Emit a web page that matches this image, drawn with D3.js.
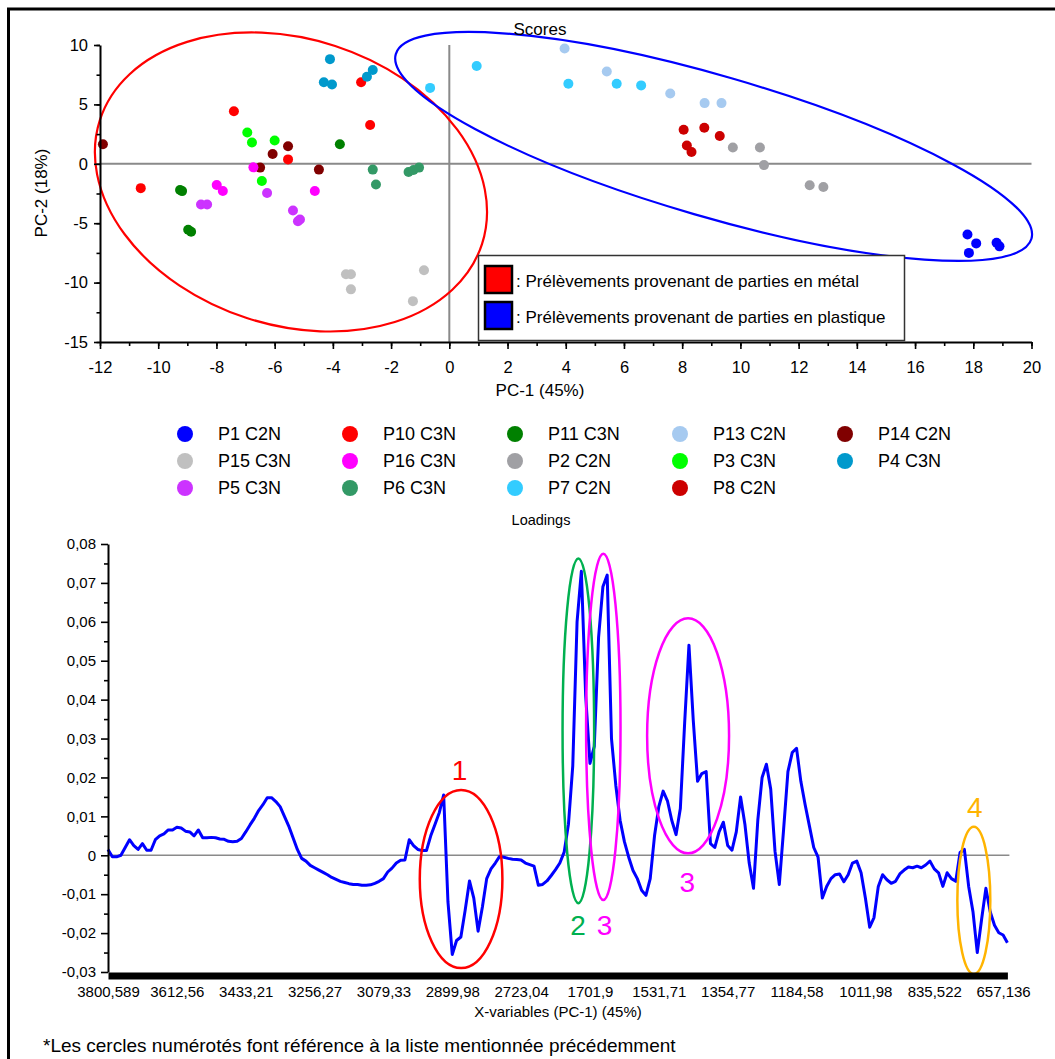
<!DOCTYPE html>
<html><head><meta charset="utf-8">
<script src="https://cdn.jsdelivr.net/npm/d3@7"></script>
<style>
body{margin:0;background:#fff}
svg{display:block}
text{font-family:"Liberation Sans",Arial,Helvetica,sans-serif}
</style>
</head><body>
<svg id="chart" width="1055" height="1059"></svg>
<script>
// ---------------- DATA ----------------
// Scores (PC-1, PC-2) per sample series
const seriesNames = ["P1 C2N","P10 C3N","P11 C3N","P13 C2N","P14 C2N",
                     "P15 C3N","P16 C3N","P2 C2N","P3 C3N","P4 C3N",
                     "P5 C3N","P6 C3N","P7 C2N","P8 C2N"];
const seriesColors = ["#0000FF","#FF0000","#008000","#A6CAF0","#800000",
                      "#C0C0C0","#FF00FF","#A0A0A4","#00FF00","#0099CC",
                      "#CC33FF","#339966","#33CCFF","#CC0000"];
const seriesPoints = [
  [[17.8,-5.95],[18.1,-6.7],[17.85,-7.5],[18.8,-6.65],[18.9,-6.95]],
  [[-10.6,-2.05],[-7.4,4.43],[-5.54,0.37],[-3.03,6.87],[-2.72,3.27]],
  [[-9.25,-2.2],[-9.18,-2.3],[-8.97,-5.55],[-8.87,-5.72],[-3.76,1.65]],
  [[3.96,9.71],[5.41,7.77],[7.59,5.91],[8.77,5.11],[9.35,5.11]],
  [[-11.9,1.65],[-6.07,0.82],[-5.54,1.48],[-6.5,-0.32],[-4.48,-0.49]],
  [[-3.55,-9.3],[-3.38,-9.3],[-3.38,-10.57],[-1.25,-11.56],[-0.87,-8.96]],
  [[-6.73,-0.3],[-7.99,-1.78],[-7.78,-2.29],[-4.62,-2.29]],
  [[9.74,1.37],[10.67,1.37],[10.81,-0.11],[12.38,-1.8],[12.85,-1.95]],
  [[-6.94,2.64],[-6.78,1.79],[-6.0,1.96],[-6.44,-1.45]],
  [[-4.1,8.81],[-4.31,6.87],[-4.03,6.67],[-2.83,7.32],[-2.63,7.9]],
  [[-8.53,-3.42],[-8.32,-3.42],[-6.26,-2.46],[-5.37,-3.93],[-5.2,-4.83],[-5.13,-4.69]],
  [[-2.63,-0.49],[-2.52,-1.74],[-1.4,-0.69],[-1.23,-0.52],[-1.04,-0.32]],
  [[-0.66,6.39],[0.94,8.23],[4.09,6.74],[5.75,6.74],[6.59,6.6]],
  [[8.05,2.86],[8.76,3.03],[9.29,2.34],[8.16,1.54],[8.32,1.0]]
];
const scoreXTicks = [-12,-10,-8,-6,-4,-2,0,2,4,6,8,10,12,14,16,18,20];
const scoreYTicks = [-15,-10,-5,0,5,10];
const groupLabels = [": Prélèvements provenant de parties en métal",
                     ": Prélèvements provenant de parties en plastique"];

// Loadings (PC-1) along the X-variables
const loadingValues = [
 0.0015,-0.0004,-0.0004,0.0,0.002,0.004,0.0025,0.0015,0.003,0.0013,
 0.0013,0.004,0.005,0.0055,0.0065,0.0065,0.0072,0.007,0.0062,0.006,
 0.005,0.0065,0.0045,0.0045,0.0046,0.0045,0.0042,0.0041,0.0036,0.0035,
 0.0036,0.0043,0.006,0.0078,0.0095,0.0115,0.013,0.0148,0.0148,0.0138,
 0.0125,0.010,0.0075,0.0045,0.0015,-0.0008,-0.0015,-0.0026,-0.0032,-0.0038,
 -0.0044,-0.005,-0.0057,-0.0062,-0.0067,-0.007,-0.0073,-0.0075,-0.0075,-0.0077,
 -0.0077,-0.0076,-0.0072,-0.0067,-0.006,-0.0043,-0.0033,-0.002,-0.0013,-0.0012,
 0.004,0.0025,0.0015,0.0012,0.0012,0.005,0.008,0.011,0.0155,-0.012,
 -0.0255,-0.0219,-0.021,-0.0141,-0.0066,-0.011,-0.0195,-0.0133,-0.006,-0.0035,
 -0.002,-0.0003,-0.0005,-0.0008,-0.001,-0.0011,-0.0012,-0.002,-0.0024,-0.0028,
 -0.0077,-0.0075,-0.0066,-0.0052,-0.0037,-0.002,0.0008,0.008,0.023,0.06,
 0.073,0.041,0.0236,0.028,0.056,0.069,0.072,0.03,0.018,0.009,
 0.0035,-0.0005,-0.0039,-0.006,-0.009,-0.0103,-0.006,0.005,0.0125,0.0165,
 0.014,0.009,0.0053,0.012,0.034,0.054,0.0347,0.019,0.021,0.0215,
 0.003,0.002,0.006,0.0085,0.0025,0.0013,0.006,0.015,0.008,-0.002,
 -0.0085,0.009,0.02,0.0234,0.017,0.001,-0.0075,0.0067,0.0215,0.0264,
 0.0275,0.019,0.013,0.0075,0.002,-0.0005,-0.011,-0.008,-0.006,-0.005,
 -0.0048,-0.0068,-0.005,-0.002,-0.0015,-0.0045,-0.011,-0.0185,-0.016,-0.008,
 -0.005,-0.0063,-0.0072,-0.0067,-0.0048,-0.0038,-0.003,-0.0032,-0.0028,-0.0032,
 -0.0025,-0.0015,-0.0035,-0.0045,-0.008,-0.0045,-0.006,-0.0067,0.0007,0.0015,
 -0.008,-0.0145,-0.025,-0.0165,-0.0085,-0.0145,-0.018,-0.0199,-0.0205,-0.0225
];
const loadingXLabels = ["3800,589","3612,56","3433,21","3256,27","3079,33","2899,98","2723,04",
                        "1701,9","1531,71","1354,77","1184,58","1011,98","835,522","657,136"];
const loadingLabelStep = 16; // variables between two labels
const loadingYTicks = [-0.03,-0.02,-0.01,0,0.01,0.02,0.03,0.04,0.05,0.06,0.07,0.08];

// annotation ellipses on loadings (index, value units)
const peakMarks = [
  {label:"1", color:"#FF0000", cx:82.05, cy:-0.0061, rx:9.6, ry:0.0229, lx:81.7, ly:0.0194},
  {label:"2", color:"#00B050", cx:109.3, cy:0.032, rx:3.67, ry:0.0443, lx:109.2, ly:-0.0205},
  {label:"3", color:"#FF00FF", cx:115.1, cy:0.033, rx:4.0, ry:0.0445, lx:115.4, ly:-0.0205},
  {label:"3", color:"#FF00FF", cx:134.8, cy:0.0307, rx:9.52, ry:0.0302, lx:134.6, ly:-0.0094},
  {label:"4", color:"#FFB400", cx:201.2, cy:-0.0116, rx:3.83, ry:0.0189, lx:201.4, ly:0.0099}
];
// group ellipses on scores (data units, screen rotation)
const groupEllipses = [
  {color:"#FF0000", cx:-5.44, cy:-1.53, rx:6.9, ry:12.04, angle:18},
  {color:"#0000FF", cx:9.08, cy:1.46, rx:11.37, ry:5.93, angle:16.2}
];

// ---------------- DRAW ----------------
const svg = d3.select("#chart");
const FONT = '"Liberation Sans",Arial,Helvetica,sans-serif';

// outer frame
svg.append("rect").attr("x",8.5).attr("y",9).attr("width",2000).attr("height",2000)
  .attr("fill","none").attr("stroke","#000").attr("stroke-width",3);

// ===== Scores =====
const sx = d3.scaleLinear().domain([-12,20]).range([100,1031.5]);
const sy = d3.scaleLinear().domain([-15,10]).range([342,45]);
const sc = svg.append("g");

sc.append("line").attr("x1",sx(-12)).attr("x2",sx(20)).attr("y1",sy(0)).attr("y2",sy(0))
  .attr("stroke","#8a8a8a").attr("stroke-width",2);
sc.append("line").attr("x1",sx(0)).attr("x2",sx(0)).attr("y1",sy(-15)).attr("y2",sy(10))
  .attr("stroke","#8a8a8a").attr("stroke-width",2);

seriesPoints.forEach((pts,i)=>{
  sc.append("g").selectAll("circle").data(pts).join("circle")
    .attr("cx",d=>sx(d[0])).attr("cy",d=>sy(d[1])).attr("r",5)
    .attr("fill",seriesColors[i]);
});

groupEllipses.forEach(e=>{
  sc.append("ellipse")
    .attr("transform",`translate(${sx(e.cx)},${sy(e.cy)}) rotate(${e.angle})`)
    .attr("rx",sx(e.cx+e.rx)-sx(e.cx)).attr("ry",sy(e.cy-e.ry)-sy(e.cy))
    .attr("fill","none").attr("stroke",e.color).attr("stroke-width",2.2);
});

function styleAxis(g,size){
  g.attr("font-family",FONT).attr("font-size",size);
  g.selectAll("text").attr("fill","#000");
  g.select(".domain").attr("stroke","#000").attr("stroke-width",2);
  g.selectAll(".tick line").attr("stroke","#000").attr("stroke-width",1.6);
}
// x axis
const gx = sc.append("g").attr("transform",`translate(0,${sy(-15)})`)
  .call(d3.axisBottom(sx).tickValues(scoreXTicks).tickSize(7).tickSizeOuter(0).tickPadding(12).tickFormat(d=>String(d)));
styleAxis(gx,16.5);
const gxm = sc.append("g").attr("transform",`translate(0,${sy(-15)})`)
  .call(d3.axisBottom(sx).tickValues(d3.range(-12,21,1)).tickSize(4).tickFormat(""));
gxm.select(".domain").remove(); gxm.selectAll(".tick line").attr("stroke","#000").attr("stroke-width",1.6);
// y axis
const gy = sc.append("g").attr("transform",`translate(${sx(-12)},0)`)
  .call(d3.axisLeft(sy).tickValues(scoreYTicks).tickSize(6).tickSizeOuter(0).tickPadding(6).tickFormat(d=>String(d)));
styleAxis(gy,16.5);
const gym = sc.append("g").attr("transform",`translate(${sx(-12)},0)`)
  .call(d3.axisLeft(sy).tickValues(d3.range(-15,10.1,2.5)).tickSize(3.5).tickFormat(""));
gym.select(".domain").remove(); gym.selectAll(".tick line").attr("stroke","#000").attr("stroke-width",1.6);

sc.append("text").attr("x",540).attr("y",35).attr("text-anchor","middle").attr("font-size",17).text("Scores");
sc.append("text").attr("x",540).attr("y",396).attr("text-anchor","middle").attr("font-size",17).text("PC-1 (45%)");
sc.append("text").attr("transform","translate(47,193) rotate(-90)").attr("text-anchor","middle")
  .attr("font-size",17).text("PC-2 (18%)");

// group legend box
const lg = sc.append("g");
lg.append("rect").attr("x",478.5).attr("y",255.5).attr("width",426).attr("height",85)
  .attr("fill","#fff").attr("stroke","#333").attr("stroke-width",1.5);
groupEllipses.forEach((e,i)=>{
  lg.append("rect").attr("x",485).attr("y",266+i*36).attr("width",27).attr("height",27)
    .attr("fill",e.color).attr("stroke","#000").attr("stroke-width",2.5);
  lg.append("text").attr("x",516).attr("y",287+i*36).attr("font-size",17).text(groupLabels[i]);
});

// series legend
const leg = svg.append("g");
seriesNames.forEach((n,i)=>{
  const col = i%5, row = Math.floor(i/5);
  const x = 185 + col*165, y = 434 + row*27;
  leg.append("circle").attr("cx",x).attr("cy",y).attr("r",8).attr("fill",seriesColors[i]);
  leg.append("text").attr("x",x+33).attr("y",y).attr("dy","0.36em").attr("font-size",18).text(n);
});

// ===== Loadings =====
const lx = d3.scaleLinear().domain([0,loadingValues.length-1]).range([108,1007.4]);
const ly = d3.scaleLinear().domain([-0.03,0.08]).range([972,544]);
const ld = svg.append("g");

ld.append("text").attr("x",541).attr("y",525).attr("text-anchor","middle").attr("font-size",14.5).text("Loadings");

ld.append("line").attr("x1",lx(0)).attr("x2",lx(loadingValues.length-1)+2).attr("y1",ly(0)).attr("y2",ly(0))
  .attr("stroke","#8a8a8a").attr("stroke-width",1.6);

ld.append("path").datum(loadingValues)
  .attr("d",d3.line().x((d,i)=>lx(i)).y(d=>ly(d)))
  .attr("fill","none").attr("stroke","#0000FF").attr("stroke-width",3).attr("stroke-linejoin","round");

peakMarks.forEach(m=>{
  ld.append("ellipse").attr("cx",lx(m.cx)).attr("cy",ly(m.cy))
    .attr("rx",lx(m.cx+m.rx)-lx(m.cx)).attr("ry",ly(m.cy-m.ry)-ly(m.cy))
    .attr("fill","none").attr("stroke",m.color).attr("stroke-width",2.5);
  ld.append("text").attr("x",lx(m.lx)).attr("y",ly(m.ly)).attr("text-anchor","middle")
    .attr("font-size",28).attr("fill",m.color).text(m.label);
});

// y axis
const lgy = ld.append("g").attr("transform",`translate(${lx(0)},0)`)
  .call(d3.axisLeft(ly).tickValues(loadingYTicks).tickSize(7).tickSizeOuter(0).tickPadding(5)
    .tickFormat(d=>Math.abs(d)<1e-9?"0":d.toFixed(2).replace(".",",")));
styleAxis(lgy,15);
const lgym = ld.append("g").attr("transform",`translate(${lx(0)},0)`)
  .call(d3.axisLeft(ly).tickValues(loadingYTicks.slice(0,-1).map(v=>v+0.005)).tickSize(4).tickFormat(""));
lgym.select(".domain").remove(); lgym.selectAll(".tick line").attr("stroke","#000").attr("stroke-width",1.6);
// x axis (thick bar)
const lgx = ld.append("g").attr("transform","translate(0,975.5)")
  .call(d3.axisBottom(lx).tickValues(loadingXLabels.map((s,i)=>i*loadingLabelStep))
    .tickSize(0).tickSizeOuter(0).tickPadding(11).tickFormat((d,i)=>loadingXLabels[i]));
lgx.attr("font-family",FONT).attr("font-size",15);
lgx.selectAll("text").attr("fill","#000");
lgx.select(".domain").attr("stroke","#000").attr("stroke-width",7);

ld.append("text").attr("x",558).attr("y",1017).attr("text-anchor","middle").attr("font-size",15)
  .text("X-variables (PC-1) (45%)");

svg.append("text").attr("x",43).attr("y",1052).attr("font-size",19)
  .text("*Les cercles numérotés font référence à la liste mentionnée précédemment");
</script>
</body></html>
